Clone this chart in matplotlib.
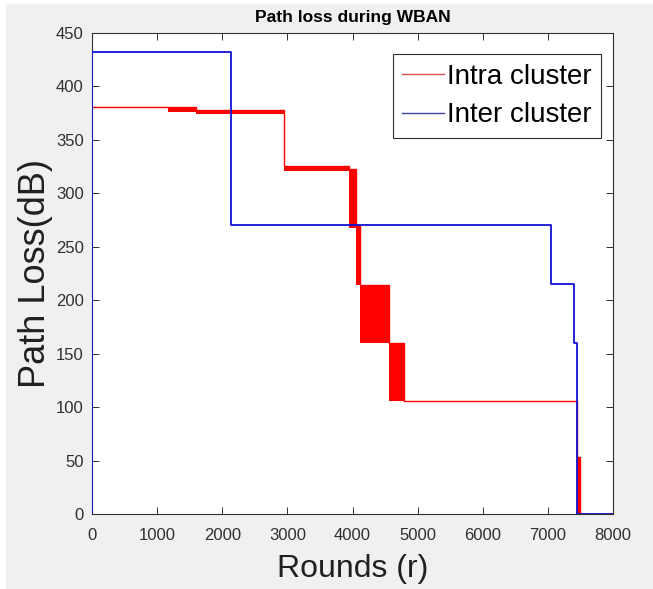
import numpy as np
import matplotlib
matplotlib.use("Agg")
import matplotlib.pyplot as plt
from matplotlib.patches import Rectangle

# intra cluster: (start round, end round, low dB, high dB); low != high means the value flickers
intra_start = [0, 1160, 1600, 2950, 3940, 4060, 4120, 4560, 4790, 7450, 7490]
intra_end = [1160, 1600, 2950, 3940, 4060, 4120, 4560, 4790, 7450, 7490, 8000]
intra_low = [381, 376, 374, 321, 268, 214, 160, 106, 106, 0, 0]
intra_high = [381, 381, 378, 326, 323, 270, 214, 160, 106, 53, 0]

# inter cluster step levels
inter_start = [0, 2130, 7050, 7400, 7445]
inter_end = [2130, 7050, 7400, 7445, 8000]
inter_level = [432, 270, 215, 160, 0]

xticks = list(range(0, 8001, 1000))
yticks = list(range(0, 451, 50))

plt.rcParams['font.family'] = ['Liberation Sans', 'DejaVu Sans']

fig = plt.figure(figsize=(6.53, 5.89), dpi=100, facecolor="white")
fig.patches.append(Rectangle((6 / 653, 0), 1, 1 - 4 / 589, transform=fig.transFigure,
                             facecolor="#f0f0f0", edgecolor="none", zorder=-10))
ax = fig.add_axes([92 / 653, 75 / 589, 521 / 653, 481 / 589])
ax.set_facecolor("white")

# red: step line plus filled bands where it flickers
rx, ry = [], []
for s, e, lo, hi in zip(intra_start, intra_end, intra_low, intra_high):
    rx += [s, e]
    ry += [hi, hi]
    if hi != lo:
        ax.fill_between([s, e], [lo, lo], [hi, hi], color="red", lw=0, zorder=2)
red, = ax.plot(rx, ry, color="red", lw=1.0, zorder=2, label="Intra cluster")

bx, by = [0], [0]
for s, e, v in zip(inter_start, inter_end, inter_level):
    bx += [s, e]
    by += [v, v]
blue, = ax.plot(bx, by, color="#1010d0", lw=1.3, zorder=3, label="Inter cluster")

ax.set_xlim(0, 8000)
ax.set_ylim(0, 450)
ax.set_xticks(xticks)
ax.set_yticks(yticks)
ax.tick_params(direction="in", length=5, width=0.7, colors="#303030",
               top=True, right=True, labelsize=12)
ax.tick_params(axis="x", pad=10)
ax.tick_params(axis="y", pad=6)
for sp in ax.spines.values():
    sp.set_color("#303030")
    sp.set_linewidth(0.8)

ax.set_title("Path loss during WBAN", fontsize=12.5, fontweight="bold", pad=8)
ax.set_xlabel("Rounds (r)", fontsize=23, labelpad=8, color="#202020")
ax.set_ylabel("Path Loss(dB)", fontsize=26, labelpad=2, color="#202020")

leg = ax.legend(handles=[red, blue], loc="upper right", bbox_to_anchor=(0.977, 0.956),
                borderaxespad=0, fancybox=False, framealpha=1, edgecolor="#303030",
                handlelength=1.5, handletextpad=0.1, borderpad=0.35, labelspacing=0.45,
                prop={"size": 20})
leg.get_frame().set_linewidth(0.8)
for h in leg.get_lines():
    h.set_linewidth(1.0)
leg.get_lines()[0].set_color("#e05050")
leg.get_lines()[1].set_color("#4040a0")

fig.savefig("out.png", dpi=100, facecolor=fig.get_facecolor())
